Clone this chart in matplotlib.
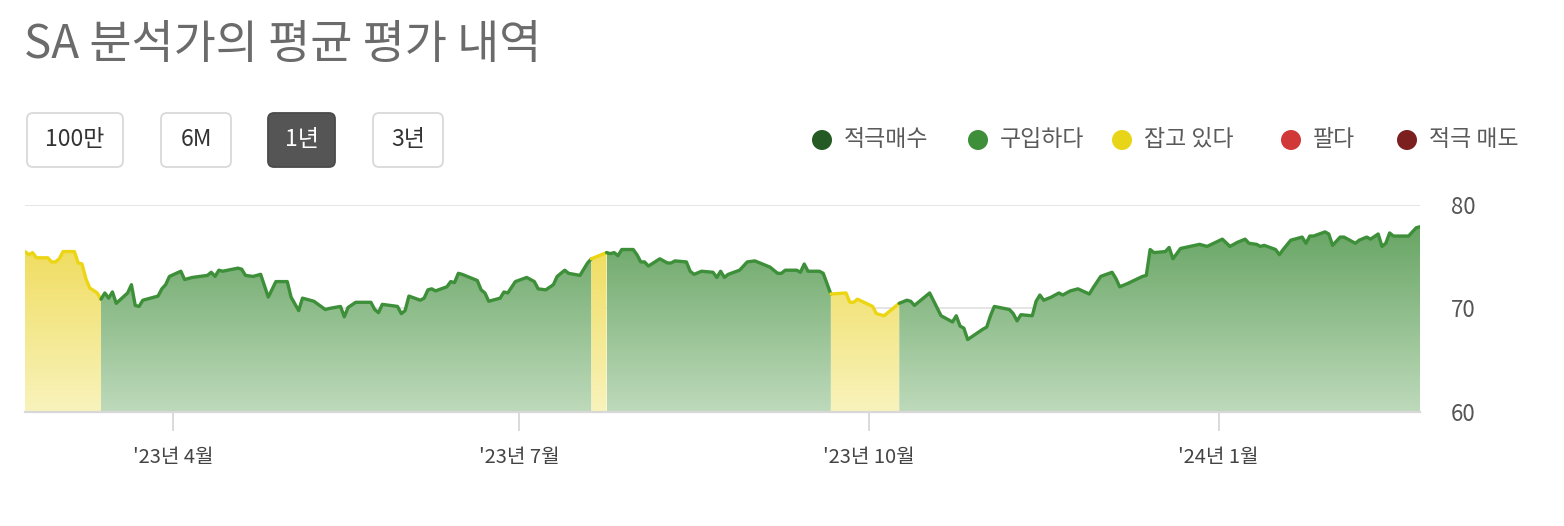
import numpy as np
import pandas as pd
import matplotlib
matplotlib.use('Agg')
import matplotlib.pyplot as plt
import matplotlib.dates as mdates
from matplotlib.colors import to_rgb
from matplotlib.patches import FancyBboxPatch, Circle

plt.rcParams['font.family'] = ['Noto Sans CJK KR', 'DejaVu Sans']

title = 'SA 분석가의 평균 평가 내역'
periods = ['100만', '6M', '1년', '3년']
active_period = '1년'
legend_labels = ['적극매수', '구입하다', '잡고 있다', '팔다', '적극 매도']
legend_colors = ['#265a24', '#3f8f3a', '#e9d518', '#d13838', '#7b1f1f']

# average rating score
dates = [
    '2023-02-21', '2023-02-22', '2023-02-23', '2023-02-24', '2023-02-27', '2023-02-28',
    '2023-03-01', '2023-03-02', '2023-03-03', '2023-03-06', '2023-03-07', '2023-03-08',
    '2023-03-09', '2023-03-10', '2023-03-12', '2023-03-13', '2023-03-14', '2023-03-15',
    '2023-03-16', '2023-03-17', '2023-03-20', '2023-03-21', '2023-03-22', '2023-03-23',
    '2023-03-24', '2023-03-28', '2023-03-29', '2023-03-30', '2023-03-31', '2023-04-03',
    '2023-04-04', '2023-04-06', '2023-04-10', '2023-04-11', '2023-04-12', '2023-04-13',
    '2023-04-14', '2023-04-18', '2023-04-19', '2023-04-20', '2023-04-22', '2023-04-24',
    '2023-04-26', '2023-04-28', '2023-05-01', '2023-05-02', '2023-05-04', '2023-05-05',
    '2023-05-08', '2023-05-11', '2023-05-12', '2023-05-15', '2023-05-16', '2023-05-17',
    '2023-05-19', '2023-05-23', '2023-05-24', '2023-05-25', '2023-05-26', '2023-05-30',
    '2023-05-31', '2023-06-01', '2023-06-02', '2023-06-05', '2023-06-06', '2023-06-07',
    '2023-06-08', '2023-06-09', '2023-06-12', '2023-06-13', '2023-06-14', '2023-06-15',
    '2023-06-16', '2023-06-20', '2023-06-21', '2023-06-22', '2023-06-23', '2023-06-26',
    '2023-06-27', '2023-06-28', '2023-06-30', '2023-07-03', '2023-07-05', '2023-07-06',
    '2023-07-08', '2023-07-10', '2023-07-11', '2023-07-13', '2023-07-14', '2023-07-17',
    '2023-07-19', '2023-07-20', '2023-07-24', '2023-07-25', '2023-07-26', '2023-07-27',
    '2023-07-28', '2023-07-31', '2023-08-01', '2023-08-02', '2023-08-03', '2023-08-04',
    '2023-08-07', '2023-08-09', '2023-08-10', '2023-08-11', '2023-08-14', '2023-08-15',
    '2023-08-16', '2023-08-18', '2023-08-21', '2023-08-22', '2023-08-23', '2023-08-24',
    '2023-08-25', '2023-08-28', '2023-08-30', '2023-09-01', '2023-09-05', '2023-09-07',
    '2023-09-08', '2023-09-09', '2023-09-12', '2023-09-13', '2023-09-14', '2023-09-15',
    '2023-09-18', '2023-09-19', '2023-09-20', '2023-09-21', '2023-09-25', '2023-09-26',
    '2023-09-27', '2023-09-28', '2023-10-02', '2023-10-03', '2023-10-05', '2023-10-06',
    '2023-10-09', '2023-10-11', '2023-10-12', '2023-10-13', '2023-10-17', '2023-10-20',
    '2023-10-23', '2023-10-24', '2023-10-25', '2023-10-26', '2023-10-27', '2023-10-31',
    '2023-11-01', '2023-11-02', '2023-11-03', '2023-11-07', '2023-11-08', '2023-11-09',
    '2023-11-10', '2023-11-13', '2023-11-14', '2023-11-15', '2023-11-16', '2023-11-18',
    '2023-11-20', '2023-11-21', '2023-11-23', '2023-11-25', '2023-11-28', '2023-11-29',
    '2023-12-01', '2023-12-04', '2023-12-05', '2023-12-06', '2023-12-08', '2023-12-12',
    '2023-12-13', '2023-12-14', '2023-12-15', '2023-12-18', '2023-12-19', '2023-12-20',
    '2023-12-22', '2023-12-27', '2023-12-29', '2024-01-02', '2024-01-04', '2024-01-06',
    '2024-01-08', '2024-01-09', '2024-01-11', '2024-01-12', '2024-01-13', '2024-01-16',
    '2024-01-17', '2024-01-18', '2024-01-20', '2024-01-23', '2024-01-24', '2024-01-25',
    '2024-01-26', '2024-01-29', '2024-01-30', '2024-01-31', '2024-02-02', '2024-02-03',
    '2024-02-06', '2024-02-07', '2024-02-09', '2024-02-10', '2024-02-12', '2024-02-13',
    '2024-02-14', '2024-02-15', '2024-02-16', '2024-02-20', '2024-02-22', '2024-02-23',
]
scores = [
    75.5, 75.2, 75.4, 74.9, 74.9, 74.5,
    74.5, 74.8, 75.5, 75.5, 74.4, 74.3,
    72.9, 72.0, 71.5, 70.9, 71.5, 71.0,
    71.6, 70.5, 71.5, 72.3, 70.3, 70.2,
    70.8, 71.2, 71.9, 72.3, 73.1, 73.6,
    72.8, 73.0, 73.2, 73.5, 73.1, 73.7,
    73.6, 73.9, 73.8, 73.2, 73.1, 73.3,
    71.1, 72.6, 72.6, 71.1, 69.8, 71.0,
    70.7, 69.9, 70.0, 70.2, 69.2, 70.1,
    70.6, 70.6, 69.9, 69.6, 70.4, 70.2,
    69.5, 69.8, 71.2, 70.8, 71.0, 71.8,
    71.9, 71.7, 72.1, 72.6, 72.5, 73.4,
    73.3, 72.7, 71.8, 71.5, 70.7, 71.0,
    71.6, 71.5, 72.6, 73.0, 72.6, 71.9,
    71.8, 72.3, 73.1, 73.7, 73.4, 73.2,
    74.4, 74.8, 75.4, 75.3, 75.4, 75.1,
    75.7, 75.7, 75.2, 74.5, 74.5, 74.1,
    74.8, 74.4, 74.4, 74.6, 74.5, 73.6,
    73.3, 73.6, 73.5, 73.0, 73.6, 73.0,
    73.3, 73.7, 74.5, 74.6, 74.0, 73.4,
    73.4, 73.7, 73.7, 73.5, 74.3, 73.6,
    73.6, 73.4, 72.4, 71.4, 71.5, 70.6,
    70.6, 70.9, 70.2, 69.5, 69.3, 69.6,
    70.5, 70.8, 70.7, 70.3, 71.5, 69.3,
    68.7, 69.3, 68.3, 68.1, 67.0, 68.0,
    68.2, 69.3, 70.2, 69.9, 69.5, 68.8,
    69.4, 69.3, 70.7, 71.3, 70.8, 71.1,
    71.5, 71.3, 71.7, 71.9, 71.4, 72.0,
    73.1, 73.5, 72.9, 72.1, 72.4, 73.1,
    73.2, 75.7, 75.4, 75.5, 75.9, 74.8,
    75.8, 76.2, 76.0, 76.7, 76.0, 76.4,
    76.7, 76.3, 76.2, 76.0, 76.1, 75.7,
    75.2, 75.7, 76.6, 76.9, 76.3, 77.0,
    77.0, 77.4, 77.2, 76.1, 76.9, 76.9,
    76.3, 76.6, 76.9, 76.7, 77.2, 76.0,
    76.3, 77.3, 77.0, 77.0, 77.8, 77.9,
]

# rating in force over each stretch
rating_start = ['2023-02-21', '2023-03-13', '2023-07-20', '2023-07-24', '2023-09-21', '2023-10-09']
rating_end = ['2023-03-13', '2023-07-20', '2023-07-24', '2023-09-21', '2023-10-09', '2024-02-23']
rating = ['잡고 있다', '구입하다', '잡고 있다', '구입하다', '잡고 있다', '구입하다']

tick_dates = ['2023-04-01', '2023-07-01', '2023-10-01', '2024-01-01']
tick_labels = ["'23년 4월", "'23년 7월", "'23년 10월", "'24년 1월"]
y_ticks = [60, 70, 80]

# styles per rating: line colour, gradient top, gradient bottom
styles = {
    '구입하다': ('#3d8f39', '#5e9f5a', '#bedabb'),
    '잡고 있다': ('#ecd614', '#eed748', '#f8f3bc'),
}

W, H = 1564, 526
fig = plt.figure(figsize=(W / 100, H / 100), dpi=100)
ax = fig.add_axes([25 / W, 1 - 412 / H, 1395 / W, 207 / H])

df = pd.DataFrame({'date': pd.to_datetime(dates), 'score': scores})

for s, e, r in zip(rating_start, rating_end, rating):
    seg = df[(df['date'] >= pd.Timestamp(s)) & (df['date'] <= pd.Timestamp(e))]
    lc, top, bot = styles[r]
    x = mdates.date2num(seg['date'])
    poly = ax.fill_between(seg['date'], 60, seg['score'], color='none', lw=0)
    t = np.linspace(0, 1, 256)[:, None]
    grad = (1 - t) * np.array(to_rgb(top)) + t * np.array(to_rgb(bot))
    grad = grad[:, None, :]
    im = ax.imshow(grad, extent=[x[0], x[-1], 60, 80], aspect='auto',
                   origin='upper', interpolation='bilinear', zorder=2)
    im.set_clip_path(poly.get_paths()[0], transform=ax.transData)
    ax.plot(seg['date'], seg['score'], color=lc, lw=2.4, zorder=4,
            solid_joinstyle='round', solid_capstyle='round')

ax.set_xlim(df['date'].iloc[0], df['date'].iloc[-1])
ax.set_ylim(60, 80)
ax.set_aspect('auto')

for yv in y_ticks[1:]:
    ax.axhline(yv, color='#e0e0e0', lw=1.2, zorder=1)

for side in ['top', 'left', 'right']:
    ax.spines[side].set_visible(False)
ax.spines['bottom'].set_color('#d8d8d8')
ax.spines['bottom'].set_linewidth(1.6)
ax.spines['bottom'].set_zorder(5)

ax.set_xticks(pd.to_datetime(tick_dates))
ax.set_xticklabels(tick_labels)
ax.tick_params(axis='x', length=14, width=1.3, color='#d8d8d8', pad=11,
               labelsize=14.5, labelcolor='#444444')
ax.yaxis.tick_right()
ax.set_yticks(y_ticks)
ax.tick_params(axis='y', length=0, pad=22, labelsize=16, labelcolor='#555555')
for lbl in ax.get_yticklabels():
    lbl.set_y(lbl.get_position()[1])

# overlay in pixel coordinates for title, buttons and legend
ov = fig.add_axes([0, 0, 1, 1])
ov.set_xlim(0, W)
ov.set_ylim(H, 0)
ov.axis('off')

ov.text(24, 45, title, fontsize=33, color='#6b6b6b', va='center', ha='left')

btn_x = [27, 161, 268, 373]
btn_w = [96, 70, 67, 70]
for label, bx, bw in zip(periods, btn_x, btn_w):
    active = label == active_period
    ov.add_patch(FancyBboxPatch((bx, 113), bw, 54,
                                boxstyle='round,pad=0,rounding_size=6',
                                facecolor='#555555' if active else 'white',
                                edgecolor='#4a4a4a' if active else '#d9d9d9', lw=1.3))
    ov.text(bx + bw / 2, 140, label, fontsize=16.5, ha='center', va='center',
            color='white' if active else '#333333')

leg_x = [822, 978, 1122, 1291, 1407]
for label, col, cx in zip(legend_labels, legend_colors, leg_x):
    ov.add_patch(Circle((cx, 140), 10, facecolor=col, edgecolor='none'))
    ov.text(cx + 22, 140, label, fontsize=16.5, ha='left', va='center', color='#5a5a5a')

fig.savefig('out.png', dpi=100, facecolor='white')
